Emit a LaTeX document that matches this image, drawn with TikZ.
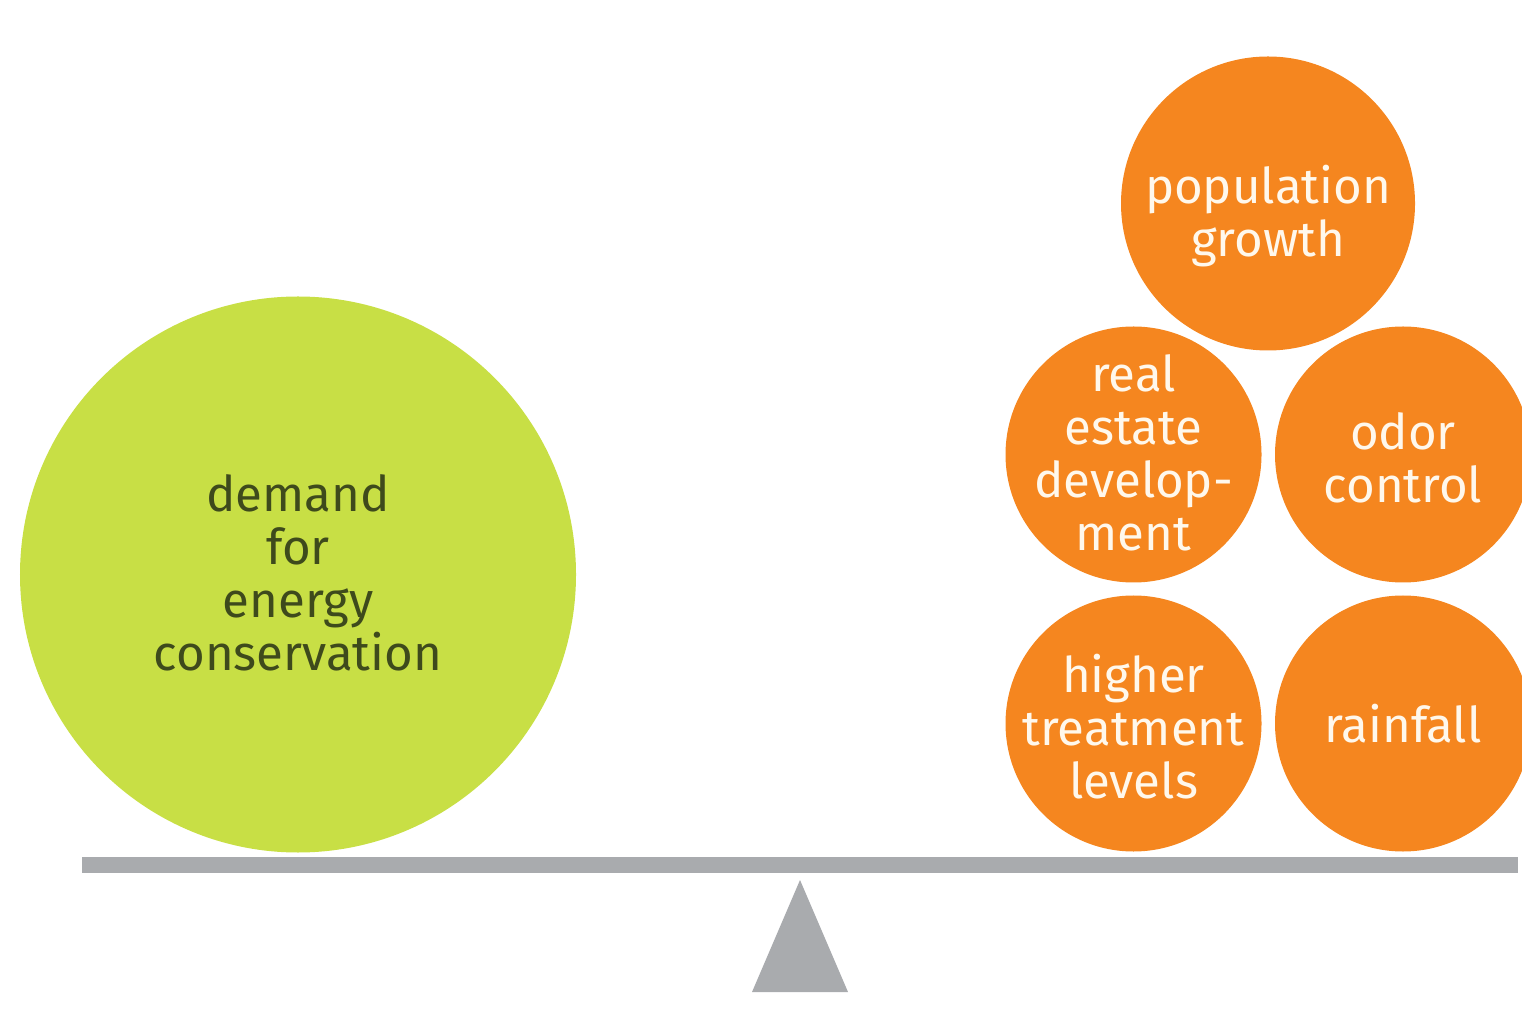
\documentclass[tikz,border=0pt]{standalone}
\usepackage{fontspec}
\setmainfont{Fira Sans}
\usetikzlibrary{positioning}
\definecolor{balLime}{HTML}{C8DF45}
\definecolor{balLimeInk}{HTML}{3E4A1C}
\definecolor{balOrange}{HTML}{F5861F}
\definecolor{balOrangeInk}{HTML}{FFF8EC}
\definecolor{balGrey}{HTML}{A9ABAE}
\tikzset{
  ballText/.style={align=center, inner sep=0pt, font=\fontsize{14}{15.1}\selectfont},
  limeBall/.style={circle, fill=balLime, draw=none, minimum size=5.56cm, inner sep=0pt},
  bigOrangeBall/.style={circle, fill=balOrange, draw=none, minimum size=2.94cm, inner sep=0pt},
  orangeBall/.style={circle, fill=balOrange, draw=none, minimum size=2.56cm, inner sep=0pt},
  limeText/.style={ballText, text=balLimeInk},
  orangeText/.style={ballText, text=balOrangeInk},
  beam/.style={fill=balGrey, draw=none},
}
\begin{document}
\begin{tikzpicture}[x=1cm,y=1cm]
  \useasboundingbox (0,0) rectangle (15.22,10.16);

  % left pan
  \node[limeBall] (demand) at (2.98,4.415) {};
  \node[limeText] (demandText) at ([yshift=0.02cm]demand.center)
    {demand\\for\\energy\\conservation};

  % right pan
  \node[bigOrangeBall] (population) at (12.68,8.125) {};
  \node[orangeBall] (estate) at (11.335,5.615) {};
  \node[orangeBall] (odor) at (14.03,5.615) {};
  \node[orangeBall] (treatment) at (11.335,2.925) {};
  \node[orangeBall] (rainfall) at (14.03,2.925) {};

  \node[orangeText] (populationText) at ([yshift=-0.13cm]population.center)
    {population\\growth};
  \node[orangeText] (estateText) at ([yshift=0.02cm]estate.center)
    {real\\estate\\develop-\\ment};
  \node[orangeText] (odorText) at ([yshift=-0.03cm]odor.center)
    {odor\\control};
  \node[orangeText] (treatmentText) at ([yshift=-0.03cm]treatment.center)
    {higher\\treatment\\levels};
  \node[orangeText] (rainfallText) at (rainfall.center) {rainfall};

  % beam and fulcrum
  \fill[beam] (0.82,1.43) rectangle (15.18,1.59);
  \fill[beam] (8.00,1.36) -- (8.48,0.24) -- (7.52,0.24) -- cycle;
\end{tikzpicture}
\end{document}
